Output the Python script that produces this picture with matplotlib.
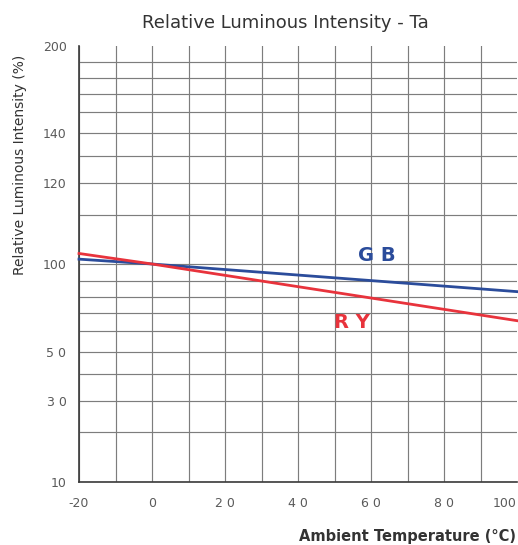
import numpy as np
import matplotlib
matplotlib.use("Agg")
import matplotlib.pyplot as plt
from matplotlib.ticker import FixedLocator

# ---- data ----
temps = [-20, 0, 100]
gb_values = [101.2, 100.0, 84.3]
ry_values = [102.6, 100.0, 67.8]
x_ticks = [-20, 0, 20, 40, 60, 80, 100]
x_ticklabels = ["-20", "0", "2 0", "4 0", "6 0", "8 0", "100"]
y_ticks = [10, 30, 50, 100, 120, 140, 200]
y_ticklabels = ["10", "3 0", "5 0", "100", "120", "140", "200"]

# ---- non-uniform datasheet y scale (tick value -> relative position) ----
y_pos = [0, 81, 130, 218, 299, 349, 436]
def fwd(v):
    return np.interp(v, y_ticks, y_pos)
def inv(p):
    return np.interp(p, y_pos, y_ticks)

# gridline positions (relative, same units as y_pos)
grid_pos = [50, 81, 108, 130, 151, 169, 185, 201, 218, 267, 299, 326, 349,
            370, 388, 404, 420]

blue = "#2b4c9b"
red = "#e8333c"
grid_c = "#7d7d7d"
spine_c = "#3a3a3a"
txt_c = "#5a5a5a"

fig = plt.figure(figsize=(5.18, 5.45), dpi=100)
ax = fig.add_axes([79/518, 1 - 482/545, (517 - 79)/518, (482 - 46)/545])
ax.set_yscale("function", functions=(fwd, inv))
ax.set_xlim(-20, 100)
ax.set_ylim(10, 200)

ax.set_xticks(x_ticks)
ax.set_xticklabels(x_ticklabels)
ax.xaxis.set_minor_locator(FixedLocator(np.arange(-10, 100, 20)))
ax.set_yticks(y_ticks)
ax.set_yticklabels(y_ticklabels)
ax.yaxis.set_minor_locator(FixedLocator(inv(np.array(grid_pos, dtype=float))))

ax.grid(True, which="both", color=grid_c, linewidth=0.85)
ax.set_axisbelow(True)
# no gridline along the top and right borders
ax.yaxis.get_gridlines()[-1].set_visible(False)
ax.xaxis.get_gridlines()[-1].set_visible(False)
ax.tick_params(which="both", length=0)
ax.tick_params(axis="x", pad=11, labelsize=9, labelcolor=txt_c)
ax.tick_params(axis="y", pad=9, labelsize=9, labelcolor=txt_c)
ax.get_xticklabels()[-1].set_horizontalalignment("right")

for s in ["top", "right"]:
    ax.spines[s].set_visible(False)
for s in ["left", "bottom"]:
    ax.spines[s].set_color(spine_c)
    ax.spines[s].set_linewidth(1.2)

ax.plot(temps, gb_values, color=blue, linewidth=2, clip_on=False, zorder=3)
ax.plot(temps, ry_values, color=red, linewidth=2, clip_on=False, zorder=3)

ax.text(61.6, 102.2, "G B", color=blue, fontsize=14, fontweight="bold",
        ha="center", va="center")
ax.text(54.8, 67, "R Y", color=red, fontsize=14, fontweight="bold",
        ha="center", va="center")

fig.text(285/518, 1 - 23/545, "Relative Luminous Intensity - Ta",
         ha="center", va="center", fontsize=13, color="#333333")
fig.text(20/518, 1 - 165/545, "Relative Luminous Intensity (%)",
         ha="center", va="center", rotation=90, fontsize=10, color="#333333")
fig.text(516/518, 1 - 537/545, "Ambient Temperature (°C)",
         ha="right", va="center", fontsize=10.5, color="#333333",
         fontweight="semibold")

fig.savefig("out.png", dpi=100)
